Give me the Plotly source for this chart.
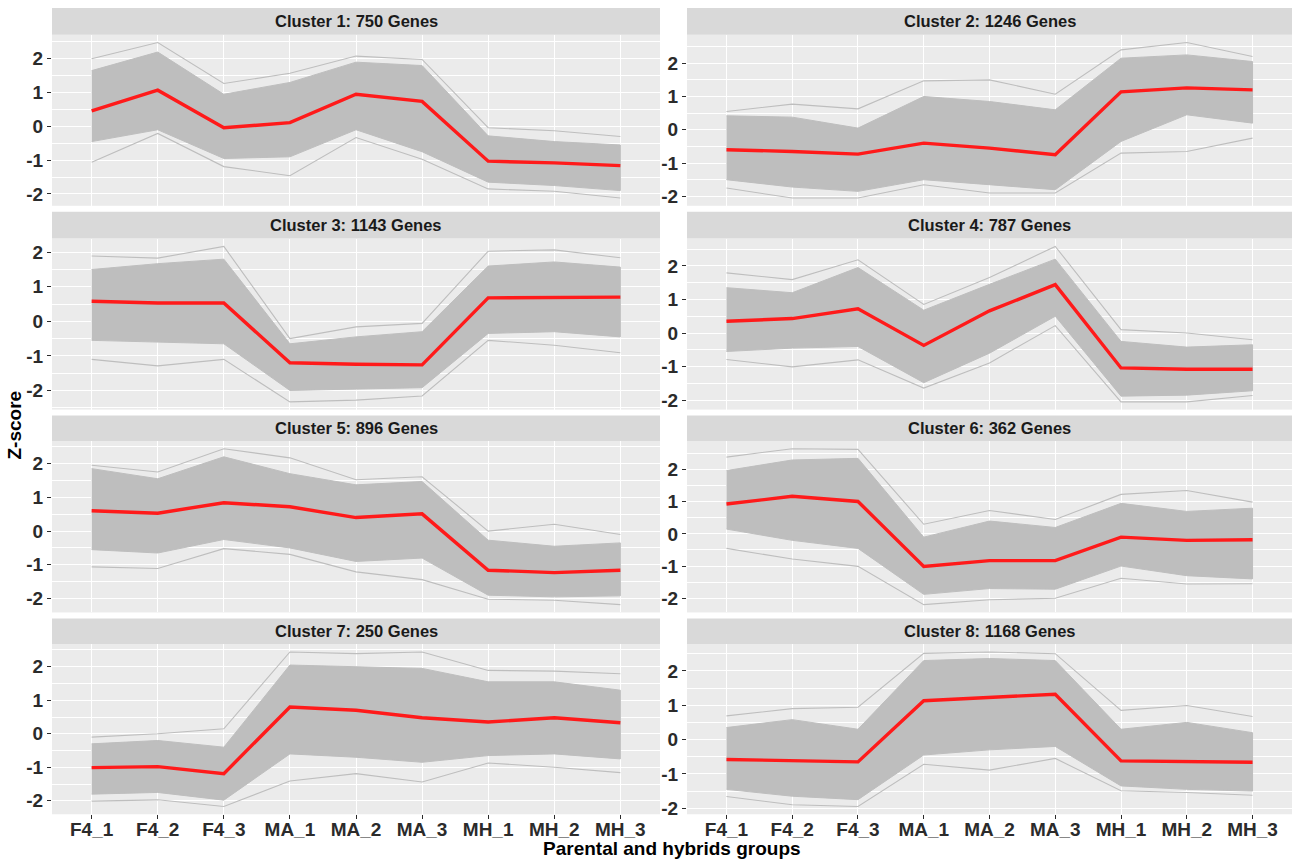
import plotly.graph_objects as go

# Sample groups on the x axis
groups = ["F4_1", "F4_2", "F4_3", "MA_1", "MA_2", "MA_3", "MH_1", "MH_2", "MH_3"]

cluster_titles = [
    "Cluster 1: 750 Genes", "Cluster 2: 1246 Genes",
    "Cluster 3: 1143 Genes", "Cluster 4: 787 Genes",
    "Cluster 5: 896 Genes", "Cluster 6: 362 Genes",
    "Cluster 7: 250 Genes", "Cluster 8: 1168 Genes",
]

# Cluster mean Z-score profile (red line)
mean_z = [
    [0.46, 1.07, -0.04, 0.11, 0.95, 0.74, -1.03, -1.08, -1.16],
    [-0.60, -0.65, -0.73, -0.40, -0.55, -0.75, 1.14, 1.26, 1.20],
    [0.58, 0.53, 0.53, -1.20, -1.24, -1.26, 0.68, 0.68, 0.70],
    [0.35, 0.43, 0.72, -0.37, 0.66, 1.44, -1.04, -1.08, -1.08],
    [0.60, 0.53, 0.84, 0.72, 0.40, 0.51, -1.16, -1.23, -1.16],
    [0.93, 1.17, 1.01, -1.01, -0.83, -0.83, -0.10, -0.20, -0.18],
    [-1.01, -0.98, -1.19, 0.80, 0.70, 0.48, 0.35, 0.48, 0.33],
    [-0.58, -0.62, -0.65, 1.13, 1.22, 1.32, -0.62, -0.63, -0.66],
]

# Highest individual gene profile in each cluster
upper_z = [
    [2.00, 2.48, 1.27, 1.57, 2.08, 1.98, -0.04, -0.13, -0.30],
    [0.55, 0.77, 0.63, 1.47, 1.50, 1.07, 2.40, 2.62, 2.20],
    [1.89, 1.83, 2.17, -0.50, -0.16, -0.06, 2.03, 2.07, 1.84],
    [1.79, 1.59, 2.18, 0.85, 1.65, 2.58, 0.10, 0.00, -0.20],
    [1.95, 1.75, 2.44, 2.17, 1.52, 1.61, 0.00, 0.20, -0.10],
    [2.39, 2.65, 2.63, 0.30, 0.73, 0.45, 1.23, 1.35, 0.99],
    [-0.10, 0.00, 0.15, 2.44, 2.39, 2.44, 1.89, 1.87, 1.79],
    [0.69, 0.90, 0.94, 2.51, 2.55, 2.50, 0.85, 0.99, 0.67],
]

# Lowest individual gene profile in each cluster
lower_z = [
    [-1.06, -0.21, -1.19, -1.46, -0.33, -0.97, -1.85, -1.92, -2.12],
    [-1.75, -2.05, -2.05, -1.65, -1.90, -1.90, -0.70, -0.65, -0.25],
    [-1.10, -1.29, -1.10, -2.33, -2.28, -2.16, -0.55, -0.69, -0.91],
    [-0.79, -1.01, -0.80, -1.64, -0.89, 0.22, -2.05, -2.05, -1.86],
    [-1.06, -1.11, -0.52, -0.69, -1.21, -1.44, -2.02, -2.05, -2.18],
    [-0.45, -0.78, -1.01, -2.20, -2.05, -2.00, -1.38, -1.56, -1.55],
    [-2.01, -1.97, -2.17, -1.41, -1.19, -1.44, -0.87, -1.00, -1.16],
    [-1.66, -1.90, -1.95, -0.72, -0.89, -0.55, -1.49, -1.54, -1.62],
]

# Dense core of the gene profiles (upper and lower edges)
core_hi_z = [
    [1.65, 2.20, 0.95, 1.30, 1.90, 1.80, -0.28, -0.45, -0.55],
    [0.42, 0.38, 0.05, 1.00, 0.85, 0.60, 2.15, 2.25, 2.05],
    [1.50, 1.67, 1.80, -0.65, -0.45, -0.30, 1.60, 1.72, 1.57],
    [1.35, 1.20, 1.95, 0.68, 1.45, 2.20, -0.25, -0.42, -0.35],
    [1.85, 1.55, 2.20, 1.70, 1.37, 1.47, -0.27, -0.45, -0.35],
    [1.97, 2.30, 2.35, -0.10, 0.40, 0.20, 0.95, 0.70, 0.80],
    [-0.30, -0.20, -0.40, 2.05, 2.00, 1.95, 1.55, 1.55, 1.30],
    [0.35, 0.58, 0.30, 2.30, 2.36, 2.30, 0.30, 0.50, 0.20],
]
core_lo_z = [
    [-0.45, -0.10, -0.95, -0.90, -0.10, -0.75, -1.65, -1.75, -1.90],
    [-1.50, -1.72, -1.85, -1.50, -1.65, -1.80, -0.35, 0.45, 0.20],
    [-0.55, -0.60, -0.65, -2.00, -1.97, -1.92, -0.35, -0.30, -0.45],
    [-0.55, -0.45, -0.40, -1.48, -0.60, 0.50, -1.88, -1.85, -1.72],
    [-0.55, -0.65, -0.25, -0.50, -0.90, -0.80, -1.90, -1.95, -1.92],
    [0.15, -0.20, -0.45, -1.88, -1.70, -1.72, -1.00, -1.30, -1.40],
    [-1.80, -1.75, -1.98, -0.60, -0.70, -0.85, -0.65, -0.60, -0.75],
    [-1.45, -1.65, -1.75, -0.45, -0.30, -0.20, -1.35, -1.45, -1.50],
]

y_ticks = [-2, -1, 0, 1, 2]
y_tick_text = ["-2", "-1", "0", "1", "2"]

W, H = 1294, 863
FONT = "Liberation Sans, Arial, sans-serif"
GENE_GRAY = "#BEBEBE"
MEAN_RED = "#FF1A1A"
STRIP_BG = "#D9D9D9"
TICK_COL = "#2B2B2B"

# Panel geometry in pixels (left, right) per column and (top, bottom) per row
col_px = [(52, 660), (687, 1292)]
row_px = [(35, 207), (240, 412), (443.5, 616), (648, 819)]
strip_px = [(8, 35), (213, 240), (418, 443.5), (622, 648)]


def px_x(v):
    return v / W


def px_y(v):
    return 1 - v / H


fig = go.Figure()
layout = dict(
    width=W, height=H,
    margin=dict(l=0, r=0, t=0, b=0),
    paper_bgcolor="white",
    plot_bgcolor="#EBEBEB",
    showlegend=False,
    font=dict(family=FONT, color=TICK_COL),
    shapes=[], annotations=[],
)

for i in range(8):
    r, c = divmod(i, 2)
    n = "" if i == 0 else str(i + 1)
    xa, ya = "x" + n, "y" + n
    bottom = r == 3

    # dense core of gene profiles
    fig.add_trace(go.Scatter(
        x=groups + groups[::-1],
        y=core_hi_z[i] + core_lo_z[i][::-1],
        fill="toself", fillcolor=GENE_GRAY, mode="lines",
        line=dict(color=GENE_GRAY, width=1),
        xaxis=xa, yaxis=ya, hoverinfo="skip",
    ))
    # outermost individual gene profiles
    for prof in (upper_z[i], lower_z[i]):
        fig.add_trace(go.Scatter(
            x=groups, y=prof, mode="lines",
            line=dict(color=GENE_GRAY, width=1.1),
            xaxis=xa, yaxis=ya, hoverinfo="skip",
        ))
    # cluster mean profile
    fig.add_trace(go.Scatter(
        x=groups, y=mean_z[i], mode="lines",
        line=dict(color=MEAN_RED, width=3.4),
        xaxis=xa, yaxis=ya,
    ))

    lo, hi = min(lower_z[i]), max(upper_z[i])
    pad = 0.05 * (hi - lo)

    layout["xaxis" + n] = dict(
        domain=[px_x(col_px[c][0]), px_x(col_px[c][1])],
        anchor=ya, type="category",
        categoryorder="array", categoryarray=groups,
        range=[-0.6, len(groups) - 0.4],
        showgrid=True, gridcolor="white", gridwidth=1.1,
        zeroline=False, showline=False,
        ticks="outside" if bottom else "", ticklen=4, tickwidth=1,
        tickcolor=TICK_COL,
        showticklabels=bottom, ticklabelstandoff=-6,
        tickfont=dict(family=FONT, size=19, color=TICK_COL, weight="bold"),
    )
    layout["yaxis" + n] = dict(
        domain=[px_y(row_px[r][1]), px_y(row_px[r][0])],
        anchor=xa,
        range=[lo - pad, hi + pad],
        tickvals=y_ticks, ticktext=y_tick_text,
        ticks="outside", ticklen=4, tickwidth=1, tickcolor=TICK_COL,
        showgrid=True, gridcolor="white", gridwidth=1.1,
        zeroline=False, showline=False,
        tickfont=dict(family=FONT, size=19, color=TICK_COL, weight="bold"),
        minor=dict(tickvals=[-2.5, -1.5, -0.5, 0.5, 1.5, 2.5],
                   showgrid=True, gridcolor="white", gridwidth=0.5, ticks=""),
    )

    # facet strip
    layout["shapes"].append(dict(
        type="rect", xref="paper", yref="paper",
        x0=px_x(col_px[c][0]), x1=px_x(col_px[c][1]),
        y0=px_y(strip_px[r][1]), y1=px_y(strip_px[r][0]),
        fillcolor=STRIP_BG, line=dict(width=0), layer="below",
    ))
    layout["annotations"].append(dict(
        text="<b>" + cluster_titles[i] + "</b>", xref="paper", yref="paper",
        x=px_x((col_px[c][0] + col_px[c][1]) / 2),
        y=px_y((strip_px[r][0] + strip_px[r][1]) / 2),
        xanchor="center", yanchor="middle", showarrow=False,
        font=dict(family=FONT, size=16.5, color="#1A1A1A"),
    ))

# axis titles
layout["annotations"].append(dict(
    text="<b>Parental and hybrids groups</b>", xref="paper", yref="paper",
    x=px_x(672), y=px_y(853), xanchor="center", yanchor="middle",
    showarrow=False, borderpad=0,
    font=dict(family=FONT, size=19, color="black"),
))
layout["annotations"].append(dict(
    text="<b>Z-score</b>", xref="paper", yref="paper",
    x=px_x(15), y=px_y(428), xanchor="center", yanchor="middle",
    textangle=-90, showarrow=False,
    font=dict(family=FONT, size=19, color="black"),
))

fig.update_layout(**layout)
fig.write_html("out.html")
